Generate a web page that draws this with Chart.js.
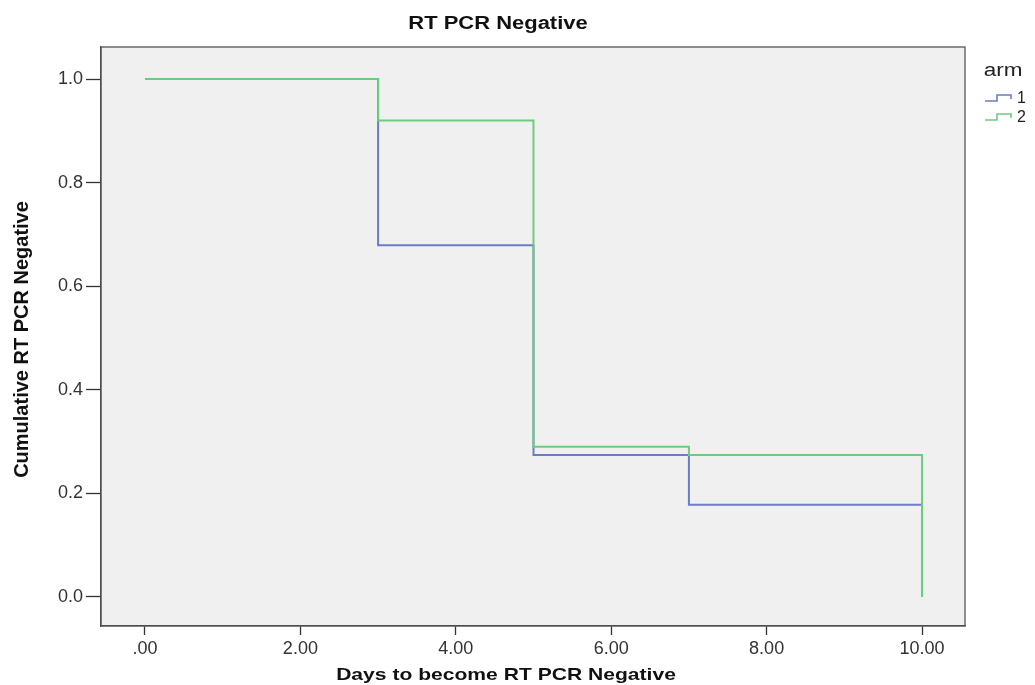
<!DOCTYPE html>
<html>
<head>
<meta charset="utf-8">
<script src="https://cdn.jsdelivr.net/npm/chart.js@4.4.0/dist/chart.umd.min.js"></script>
<style>
  html, body { margin: 0; padding: 0; background: #fff; }
  canvas { display: block; }
</style>
</head>
<body>
<canvas id="kmChart" width="1035" height="685"></canvas>
<script>
const days = [0, 3, 5, 7, 10];
const arm1 = [1, 0.679, 0.274, 0.178, 0];
const arm2 = [1, 0.92, 0.29, 0.274, 0];
const armLabels = ['1', '2'];
const xTicks = [0, 2, 4, 6, 8, 10];
const yTicks = [0, 0.2, 0.4, 0.6, 0.8, 1.0];

const blue = '#6a7cc4';
const green = '#6dcb7d';
const fontFam = '"Liberation Sans", Arial, sans-serif';

function toPoints(ys) {
  return days.map((d, i) => ({ x: d, y: ys[i] }));
}

// background, box, titles and legend
const decor = {
  id: 'decor',
  beforeDraw(chart) {
    const ctx = chart.ctx;
    const a = chart.chartArea;
    ctx.save();
    ctx.fillStyle = '#fff';
    ctx.fillRect(0, 0, chart.width, chart.height);
    ctx.fillStyle = '#f0f0f0';
    ctx.fillRect(a.left, a.top, a.right - a.left, a.bottom - a.top);
    ctx.restore();
  },
  afterDraw(chart) {
    const ctx = chart.ctx;
    const a = chart.chartArea;
    ctx.save();
    ctx.strokeStyle = '#555';
    ctx.lineWidth = 1.3;
    ctx.strokeRect(a.left, a.top, a.right - a.left, a.bottom - a.top);

    ctx.fillStyle = '#111';
    ctx.textAlign = 'center';
    ctx.textBaseline = 'alphabetic';

    // chart title (reference text is a bit wide)
    ctx.save();
    ctx.font = 'bold 18px ' + fontFam;
    ctx.scale(1.22, 1);
    ctx.fillText('RT PCR Negative', 498 / 1.22, 29);
    ctx.restore();

    // x axis title
    ctx.save();
    ctx.font = 'bold 17px ' + fontFam;
    ctx.scale(1.24, 1);
    ctx.fillText('Days to become RT PCR Negative', 506 / 1.24, 680);
    ctx.restore();

    // y axis title
    ctx.save();
    ctx.font = 'bold 20px ' + fontFam;
    ctx.translate(22, (a.top + a.bottom) / 2 + 3);
    ctx.rotate(-Math.PI / 2);
    ctx.textBaseline = 'middle';
    ctx.fillText('Cumulative RT PCR Negative', 0, 0);
    ctx.restore();

    // legend
    ctx.save();
    ctx.fillStyle = '#222';
    ctx.font = '18px ' + fontFam;
    ctx.scale(1.25, 1);
    ctx.textAlign = 'center';
    ctx.fillText('arm', 1003 / 1.25, 76);
    ctx.restore();

    const cols = [blue, green];
    armLabels.forEach((lab, i) => {
      const yc = 98 + i * 19;
      ctx.strokeStyle = cols[i];
      ctx.lineWidth = 1.6;
      ctx.beginPath();
      ctx.moveTo(985, yc + 3);
      ctx.lineTo(997, yc + 3);
      ctx.lineTo(997, yc - 3);
      ctx.lineTo(1011, yc - 3);
      ctx.lineTo(1011, yc + 1);
      ctx.stroke();
      ctx.fillStyle = '#222';
      ctx.font = '16px ' + fontFam;
      ctx.textAlign = 'left';
      ctx.textBaseline = 'middle';
      ctx.fillText(lab, 1017, yc + 1);
    });
    ctx.restore();
  }
};

new Chart(document.getElementById('kmChart'), {
  type: 'line',
  data: {
    datasets: [
      {
        label: armLabels[0],
        data: toPoints(arm1),
        borderColor: blue,
        borderWidth: 2,
        stepped: true,
        pointRadius: 0,
        fill: false,
        order: 1
      },
      {
        label: armLabels[1],
        data: toPoints(arm2),
        borderColor: green,
        borderWidth: 2,
        stepped: true,
        pointRadius: 0,
        fill: false,
        order: 0
      }
    ]
  },
  options: {
    responsive: false,
    animation: false,
    layout: { padding: { top: 47, right: 70, left: 0, bottom: 0 } },
    plugins: {
      legend: { display: false },
      tooltip: { enabled: false },
      title: { display: false }
    },
    scales: {
      x: {
        type: 'linear',
        min: -0.566,
        max: 10.553,
        afterBuildTicks: (scale) => { scale.ticks = xTicks.map(v => ({ value: v })); },
        afterFit: (scale) => { scale.height = 59; },
        grid: { drawOnChartArea: false, drawTicks: true, tickLength: 9, color: '#333', tickWidth: 1.3 },
        border: { display: true, color: '#444', width: 1.3 },
        ticks: {
          padding: 3,
          color: '#333',
          font: { family: fontFam, size: 18 },
          maxRotation: 0,
          callback: (v) => v === 0 ? '.00' : v.toFixed(2)
        }
      },
      y: {
        type: 'linear',
        min: -0.056,
        max: 1.062,
        afterBuildTicks: (scale) => { scale.ticks = yTicks.map(v => ({ value: v })); },
        afterFit: (scale) => { scale.width = 101; },
        grid: { drawOnChartArea: false, drawTicks: true, tickLength: 15, color: '#333', tickWidth: 1.3 },
        border: { display: true, color: '#444', width: 1.3 },
        ticks: {
          padding: 3,
          color: '#333',
          font: { family: fontFam, size: 18 },
          callback: (v) => v.toFixed(1)
        }
      }
    }
  },
  plugins: [decor]
});
</script>
</body>
</html>
